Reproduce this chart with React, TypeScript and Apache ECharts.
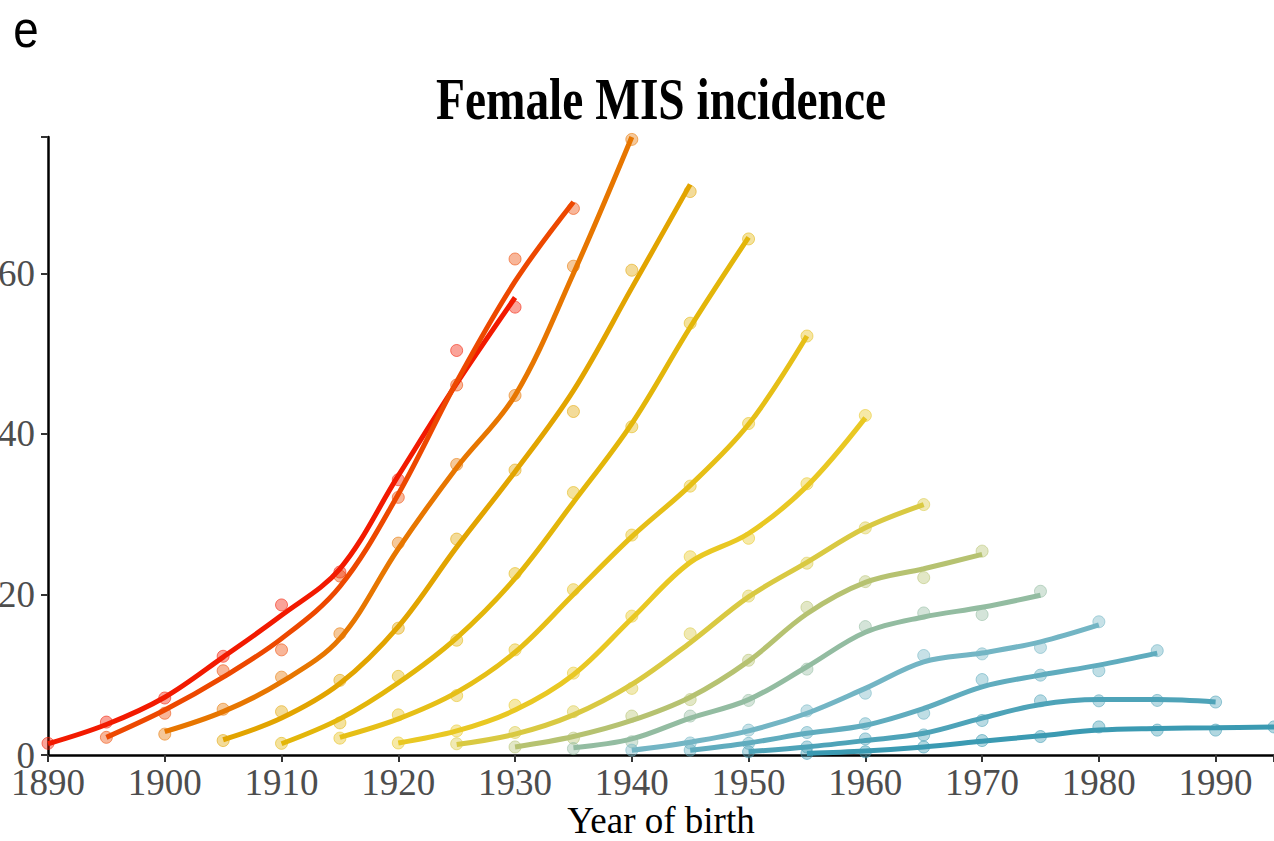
import React, { useEffect, useRef } from "react";
import * as echarts from "echarts";

// Birth-year of the first point of each age-group curve (points every 5 years)
const cohortStart = [1890, 1895, 1900, 1905, 1910, 1915, 1920, 1925, 1930, 1935, 1940, 1945, 1950, 1955];
const stepYears = 5;

// Observed incidence (points)
const observed: number[][] = [
  [1.45, 4.1, 7.1, 12.3, 18.7, 22.8, 34.3, 50.4, 55.8],
  [2.2, 5.2, 10.5, 13.1, 22.3, 32.1, 46.1, 61.8, 68.1],
  [2.6, 5.7, 9.7, 15.1, 26.4, 36.2, 44.8, 60.9, 76.7],
  [1.8, 5.4, 9.3, 15.8, 26.9, 35.5, 42.8, 60.4, 70.2],
  [1.45, 4.0, 9.8, 14.3, 22.6, 32.7, 40.9, 53.8, 64.3],
  [2.1, 5.0, 7.4, 13.1, 20.6, 27.4, 33.5, 41.3, 52.2],
  [1.5, 3.0, 6.2, 10.2, 17.3, 24.7, 27.0, 33.8, 42.3],
  [1.4, 2.8, 5.4, 8.3, 15.1, 19.8, 23.9, 28.3, 31.2],
  [1.0, 2.1, 4.85, 6.9, 11.8, 18.4, 21.6, 22.1, 25.4],
  [0.8, 1.65, 4.85, 6.8, 10.7, 16.0, 17.7, 17.5, 20.4],
  [0.6, 1.5, 3.1, 5.5, 7.7, 12.4, 12.6, 13.4, 16.6],
  [0.6, 1.45, 2.8, 3.9, 5.2, 9.4, 9.95, 10.5, 13.0],
  [0.4, 1.0, 2.0, 2.5, 4.3, 6.75, 6.75, 6.8, 6.6],
  [0.2, 0.4, 1.0, 1.8, 2.3, 3.5, 3.1, 3.1, 3.5],
];

// Smoothed fit (lines)
const fitted: number[][] = [
  [1.4, 3.8, 7.2, 12.2, 17.4, 23.2, 34.8, 46.3, 57.0],
  [2.2, 5.6, 9.7, 14.5, 21.0, 32.5, 46.5, 59.0, 68.9],
  [2.9, 5.4, 9.1, 14.5, 25.7, 35.8, 44.8, 60.0, 77.0],
  [1.9, 4.6, 8.9, 16.0, 25.9, 35.3, 45.4, 58.2, 71.1],
  [1.4, 4.5, 9.0, 14.6, 22.0, 31.5, 41.3, 53.3, 64.5],
  [2.2, 4.5, 7.8, 12.8, 20.0, 27.2, 33.6, 41.2, 52.2],
  [1.5, 3.0, 5.6, 10.0, 17.0, 24.0, 27.6, 33.5, 42.0],
  [1.3, 2.6, 5.0, 8.8, 14.0, 19.7, 24.0, 28.3, 31.2],
  [1.0, 2.3, 4.3, 7.2, 11.7, 17.6, 21.5, 23.2, 25.0],
  [0.9, 2.0, 4.6, 6.9, 11.0, 15.3, 17.2, 18.4, 19.9],
  [0.6, 1.6, 3.0, 5.2, 8.3, 11.6, 12.7, 14.1, 16.2],
  [0.6, 1.5, 2.7, 3.7, 5.8, 8.5, 9.95, 11.2, 12.7],
  [0.4, 1.0, 1.8, 2.7, 4.6, 6.3, 6.9, 6.9, 6.6],
  [0.2, 0.5, 1.0, 1.7, 2.4, 3.1, 3.3, 3.4, 3.5],
];

const colors = [
  "#F21A00", "#ED4800", "#E77600", "#E2A400", "#E3B60A", "#E6BF17", "#E9C823",
  "#D9C942", "#B6C271", "#93BCA1", "#73B5C4", "#60ACBE", "#4EA3B8", "#3B9AB2",
];

const xTicks = [1890, 1900, 1910, 1920, 1930, 1940, 1950, 1960, 1970, 1980, 1990];
const yTicks = [0, 20, 40, 60];

const titleText = "Female MIS incidence";
const xTitle = "Year of birth";
const panelTag = "e";

function hexToRgba(hex: string, a: number) {
  const n = parseInt(hex.slice(1), 16);
  return `rgba(${(n >> 16) & 255},${(n >> 8) & 255},${n & 255},${a})`;
}

export default function App() {
  const ref = useRef<HTMLDivElement>(null);
  useEffect(() => {
    if (!ref.current) return;
    const chart = echarts.init(ref.current, undefined, { renderer: "svg" });
    const serif = '"Liberation Serif", "Times New Roman", serif';
    const series: any[] = [];
    cohortStart.forEach((start, k) => {
      const pts = observed[k].map((v, i) => [start + i * stepYears, v]);
      const fit = fitted[k].map((v, i) => [start + i * stepYears, v]);
      series.push({
        type: "scatter",
        data: pts,
        symbol: "circle",
        symbolSize: 12,
        z: 2,
        itemStyle: {
          color: hexToRgba(colors[k], 0.5),
          borderColor: hexToRgba(colors[k], 0.7),
          borderWidth: 1,
        },
        silent: true,
      });
      series.push({
        type: "line",
        data: fit,
        smooth: 0.35,
        showSymbol: false,
        symbol: "none",
        z: 3,
        lineStyle: { color: colors[k], width: 5, cap: "butt" },
        silent: true,
      });
    });

    chart.setOption({
      animation: false,
      backgroundColor: "#ffffff",
      grid: {
        left: 48,
        right: 0,
        top: 137,
        bottom: 86,
        containLabel: false,
        outerBoundsMode: "none",
      },
      xAxis: {
        type: "value",
        min: 1890,
        max: 1995,
        interval: 10,
        axisLine: { show: true, lineStyle: { color: "#000", width: 2.5 } },
        axisTick: { show: true, length: 7, lineStyle: { color: "#333", width: 2 } },
        splitLine: { show: false },
        axisLabel: {
          color: "#4D4D4D",
          fontFamily: serif,
          fontSize: 37,
          margin: 9,
          customValues: xTicks,
          formatter: (v: number) => String(v),
        },
      },
      yAxis: {
        type: "value",
        min: 0,
        max: 77,
        interval: 20,
        axisLine: { show: true, lineStyle: { color: "#000", width: 2.5 } },
        axisTick: { show: true, length: 7, lineStyle: { color: "#333", width: 2 } },
        splitLine: { show: false },
        axisLabel: {
          color: "#4D4D4D",
          fontFamily: serif,
          fontSize: 37,
          margin: 13,
          customValues: yTicks,
          formatter: (v: number) => String(v),
        },
      },
      graphic: [
        {
          type: "text",
          x: 661,
          y: 99,
          scaleX: 0.79,
          style: {
            text: titleText,
            font: 'bold 60px "Liberation Serif", "Times New Roman", serif',
            fill: "#000",
            align: "center",
            verticalAlign: "middle",
          },
        },
        {
          type: "text",
          x: 661,
          y: 820.5,
          style: {
            text: xTitle,
            font: '37px "Liberation Serif", "Times New Roman", serif',
            fill: "#000",
            align: "center",
            verticalAlign: "middle",
          },
        },
        {
          type: "text",
          x: 26,
          y: 29,
          scaleX: 0.88,
          style: {
            text: panelTag,
            font: '52px "Liberation Sans", Arial, sans-serif',
            fill: "#000",
            align: "center",
            verticalAlign: "middle",
          },
        },
      ],
      series,
    });
    return () => chart.dispose();
  }, []);
  return (
    <div
      ref={ref}
      style={{ position: "fixed", left: 0, top: 0, width: 1274, height: 841 }}
    />
  );
}
